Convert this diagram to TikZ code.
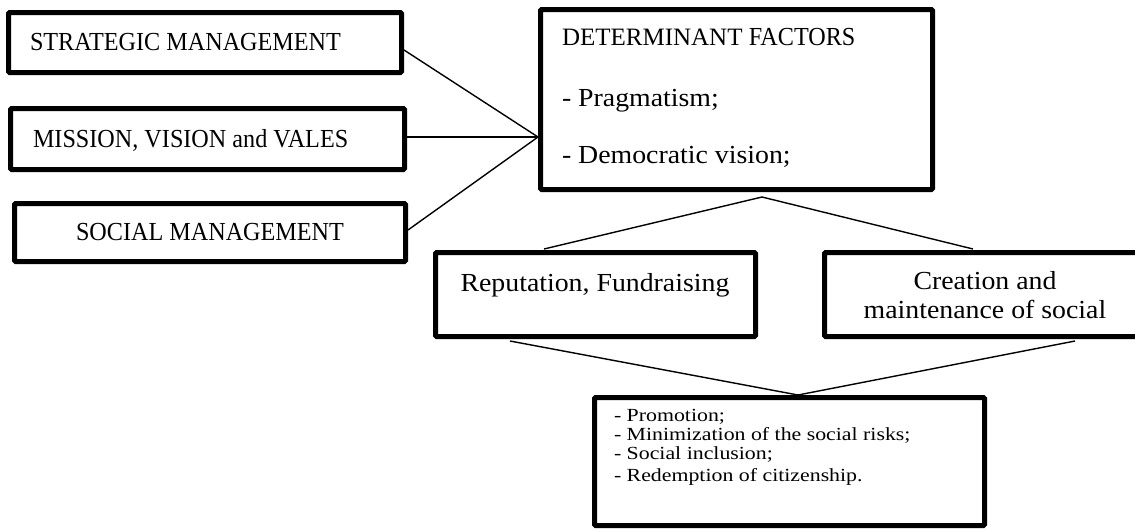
\documentclass[tikz,border=0pt]{standalone}
\usepackage{fontspec}
\setmainfont{Liberation Serif}
\newfontfamily\capsfont{Liberation Serif}[FakeStretch=0.93]
\newfontfamily\widefont{Liberation Serif}[FakeStretch=1.07]
\newfontfamily\listfont{Liberation Serif}[FakeStretch=1.18]
\usetikzlibrary{calc}
\tikzset{
  box/.style={draw, line width=5pt, rounded corners=1.2pt, inner sep=0pt, outer sep=0pt},
  link/.style={line width=1.4pt},
  txt/.style={inner sep=0pt, outer sep=0pt, anchor=base west},
  ctxt/.style={inner sep=0pt, outer sep=0pt, anchor=base},
  capsize/.style={font=\capsfont\fontsize{26}{30}\selectfont},
  lowsize/.style={font=\widefont\fontsize{26}{30}\selectfont},
  listsize/.style={font=\listfont\fontsize{18.5}{21}\selectfont}
}
\begin{document}
\begin{tikzpicture}[x=1pt, y=-1pt]
\useasboundingbox (0,0) rectangle (1135,531);
\clip (0,0) rectangle (1135,531);

% boxes (corner to corner, border centred on the path)
\node[box, minimum width=393pt, minimum height=60pt, anchor=north west] (sm) at (8.5,12.5) {};
\node[box, minimum width=394pt, minimum height=61pt, anchor=north west] (mv) at (10.5,108.5) {};
\node[box, minimum width=391pt, minimum height=58pt, anchor=north west] (so) at (14.5,203.5) {};
\node[box, minimum width=392pt, minimum height=180pt, anchor=north west] (df) at (540.5,9.5) {};
\node[box, minimum width=320pt, minimum height=84pt, anchor=north west] (rf) at (435.5,252.5) {};
\node[box, minimum width=340pt, minimum height=84pt, anchor=north west] (cm) at (824.5,252.5) {};
\node[box, minimum width=390pt, minimum height=128pt, anchor=north west] (pr) at (594.5,397.5) {};

% texts
\node[txt, capsize] (smt) at (30,50) {STRATEGIC MANAGEMENT};
\node[txt, capsize] (mvt) at (33,147) {MISSION, VISION and VALES};
\node[ctxt, capsize] (sot) at (210,240) {SOCIAL MANAGEMENT};

\node[txt] (dft) at (562,45) {\fontsize{25}{28}\selectfont DETERMINANT\ \capsfont\fontsize{26}{30}\selectfont FACTORS};
\node[txt, lowsize] (dfa) at (562,106) {- Pragmatism;};
\node[txt, lowsize] (dfb) at (562,163) {- Democratic vision;};

\node[ctxt, lowsize] (rft) at (595,291) {Reputation, Fundraising};
\node[ctxt, lowsize] (cmt1) at (985,289) {Creation and};
\node[ctxt, lowsize] (cmt2) at (985,318) {maintenance of social};

\node[txt, listsize] (pl1) at (614,421) {- Promotion;};
\node[txt, listsize] (pl2) at (614,440) {- Minimization of the social risks;};
\node[txt, listsize] (pl3) at (614,459) {- Social inclusion;};
\node[txt, listsize] (pl4) at (614,481) {- Redemption of citizenship.};

% junction points
\coordinate (hub) at ($(df.north west)+(-2.5,127.5)$);
\coordinate (top) at ($(df.south west)+(221.5,7.5)$);
\coordinate (low) at ($(pr.north west)+(203.5,-2.5)$);

% connectors into the factors box
\draw[link] ($(sm.north east)+(2.5,37.5)$) -- (hub);
\draw[link] ($(mv.north east)+(2.5,28.5)$) -- (hub);
\draw[link] ($(so.north east)+(2.5,26.5)$) -- (hub);

% connectors from the factors box
\draw[link] (top) -- ($(rf.north west)+(108.5,-3.5)$);
\draw[link] (top) -- ($(cm.north west)+(148.5,-3.5)$);

% connectors into the list box
\draw[link] ($(rf.south west)+(74.5,4.5)$) -- (low);
\draw[link] ($(cm.south west)+(250.5,4.5)$) -- (low);
\end{tikzpicture}
\end{document}
